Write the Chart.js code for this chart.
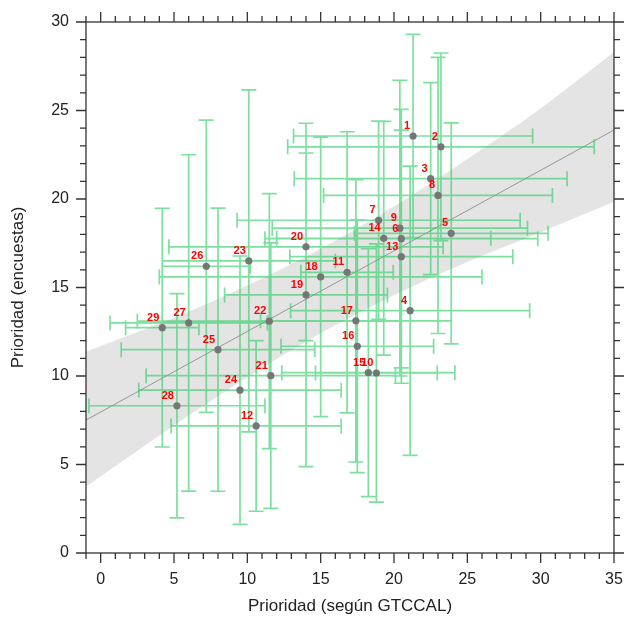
<!DOCTYPE html>
<html>
<head>
<meta charset="utf-8">
<script src="https://cdn.jsdelivr.net/npm/chart.js@4.4.1/dist/chart.umd.min.js"></script>
<style>
  html, body { margin: 0; padding: 0; background: #fff; }
</style>
</head>
<body>
<canvas id="chart" width="627" height="629"></canvas>
<script>
// Data
const pointIds = ['1','2','3','4','5','6','7','8','9','10','11','12','13','14','15',
                  '16','17','18','19','20','21','22','23','24','25','26','27','28','29'];
// Prioridad (según GTCCAL) - x
const prioGtccal = [21.3, 23.2, 22.5, 21.1, 23.9, 20.5, 18.95, 23.0, 20.4, 18.8,
                    16.8, 10.6, 20.5, 19.3, 18.25, 17.5, 17.4, 15.0, 14.0, 14.0,
                    11.6, 11.5, 10.1, 9.5, 8.0, 7.2, 6.0, 5.2, 4.2];
// Prioridad (encuestas) - y
const prioEncuestas = [23.56, 22.95, 21.15, 13.69, 18.06, 17.76, 18.8, 20.2, 18.35, 10.17,
                       15.86, 7.18, 16.74, 17.78, 10.19, 11.68, 13.12, 15.6, 14.58, 17.3,
                       10.02, 13.1, 16.5, 9.2, 11.49, 16.2, 13.0, 8.32, 12.73];
// half widths of the error bars
const errGtccal = [8.15, 10.45, 9.3, 8.15, 6.6, 9.3, 9.65, 7.8, 8.7, 4.15,
                   3.15, 5.8, 7.6, 7.3, 5.9, 5.2, 6.5, 11.0, 5.55, 9.35,
                   8.5, 9.0, 5.9, 6.9, 6.6, 3.0, 5.36, 6.0, 2.5];
const errEncuestas = [5.74, 5.3, 5.42, 8.17, 6.24, 7.3, 5.6, 7.8, 8.35, 7.3,
                      7.94, 4.82, 7.15, 6.6, 7.0, 7.14, 7.98, 7.9, 9.7, 5.3,
                      7.5, 7.2, 9.66, 7.58, 8.0, 8.26, 9.5, 6.33, 6.74];

// regression line and its confidence band
const fitX = [-1, 35];
const fitY = [7.51, 23.9];
const bandX = [-1, 5, 10, 15, 20, 25, 30, 35];
const bandUpper = [11.37, 13.29, 15.11, 17.19, 19.58, 22.26, 25.12, 28.3];
const bandLower = [3.75, 7.21, 9.93, 12.41, 14.56, 16.44, 18.12, 19.85];

const X_MIN = -1, X_MAX = 35, Y_MIN = 0, Y_MAX = 30;

const GREEN = 'rgba(45, 205, 100, 0.62)';
const AXIS_COLOR = '#333';
const FONT = '"Liberation Sans", Arial, sans-serif';

const toXY = (xs, ys) => xs.map((v, i) => ({x: v, y: ys[i]}));

// green error bars, drawn just before the gray points
const errorBars = {
    id: 'errorBars',
    beforeDatasetDraw(chart, args) {
        if (args.index !== 0) return;
        const {ctx, scales: {x, y}} = chart;
        const cap = 7.5;
        ctx.save();
        ctx.strokeStyle = GREEN;
        ctx.lineWidth = 1.7;
        ctx.beginPath();
        prioGtccal.forEach((xv, i) => {
            const yv = prioEncuestas[i];
            const px = x.getPixelForValue(xv);
            const py = y.getPixelForValue(yv);
            const x0 = x.getPixelForValue(xv - errGtccal[i]);
            const x1 = x.getPixelForValue(xv + errGtccal[i]);
            const y0 = y.getPixelForValue(yv - errEncuestas[i]);
            const y1 = y.getPixelForValue(yv + errEncuestas[i]);
            // horizontal
            ctx.moveTo(x0, py); ctx.lineTo(x1, py);
            ctx.moveTo(x0, py - cap); ctx.lineTo(x0, py + cap);
            ctx.moveTo(x1, py - cap); ctx.lineTo(x1, py + cap);
            // vertical
            ctx.moveTo(px, y0); ctx.lineTo(px, y1);
            ctx.moveTo(px - cap, y0); ctx.lineTo(px + cap, y0);
            ctx.moveTo(px - cap, y1); ctx.lineTo(px + cap, y1);
        });
        ctx.stroke();
        ctx.restore();
    }
};

// red number next to each point
const pointLabels = {
    id: 'pointLabels',
    afterDatasetsDraw(chart) {
        const {ctx, scales: {x, y}} = chart;
        ctx.save();
        ctx.fillStyle = '#ff0000';
        ctx.font = 'bold 11px ' + FONT;
        ctx.textAlign = 'right';
        ctx.textBaseline = 'middle';
        pointIds.forEach((id, i) => {
            const px = x.getPixelForValue(prioGtccal[i]);
            const py = y.getPixelForValue(prioEncuestas[i]);
            ctx.fillText(id, px - 3, py - 10);
        });
        ctx.restore();
    }
};

// box round the plot with outward ticks on all four sides
const frameTicks = {
    id: 'frameTicks',
    afterDraw(chart) {
        const {ctx, chartArea: a, scales: {x, y}} = chart;
        const major = 10, minor = 6;
        ctx.save();
        ctx.strokeStyle = AXIS_COLOR;
        ctx.lineWidth = 1.3;
        ctx.strokeRect(a.left, a.top, a.right - a.left, a.bottom - a.top);
        ctx.beginPath();
        for (let v = X_MIN; v <= X_MAX; v++) {
            const px = x.getPixelForValue(v);
            const len = v % 5 === 0 ? major : minor;
            ctx.moveTo(px, a.bottom); ctx.lineTo(px, a.bottom + len);
            ctx.moveTo(px, a.top); ctx.lineTo(px, a.top - len);
        }
        for (let v = Y_MIN; v <= Y_MAX; v++) {
            const py = y.getPixelForValue(v);
            const len = v % 5 === 0 ? major : minor;
            ctx.moveTo(a.left, py); ctx.lineTo(a.left - len, py);
            ctx.moveTo(a.right, py); ctx.lineTo(a.right + len, py);
        }
        ctx.stroke();
        ctx.restore();
    }
};

new Chart(document.getElementById('chart'), {
    type: 'scatter',
    data: {
        datasets: [{
            label: 'Tópicos',
            data: toXY(prioGtccal, prioEncuestas),
            backgroundColor: '#767676',
            borderWidth: 0,
            pointRadius: 3.6,
            order: 0
        }, {
            label: 'Ajuste',
            data: toXY(fitX, fitY),
            showLine: true,
            borderColor: 'rgba(120, 120, 120, 0.9)',
            borderWidth: 0.8,
            pointRadius: 0,
            order: 1
        }, {
            label: 'Banda sup',
            data: toXY(bandX, bandUpper),
            showLine: true,
            borderWidth: 0,
            pointRadius: 0,
            cubicInterpolationMode: 'monotone',
            backgroundColor: '#e4e4e4',
            fill: '+1',
            order: 2
        }, {
            label: 'Banda inf',
            data: toXY(bandX, bandLower),
            showLine: true,
            borderWidth: 0,
            pointRadius: 0,
            cubicInterpolationMode: 'monotone',
            order: 2
        }]
    },
    options: {
        responsive: false,
        animation: false,
        events: [],
        layout: { padding: { top: 22, right: 13, left: 0, bottom: 0 } },
        plugins: {
            legend: { display: false },
            tooltip: { enabled: false }
        },
        scales: {
            x: {
                type: 'linear',
                min: X_MIN,
                max: X_MAX,
                grid: { display: false, drawTicks: true, tickLength: 15 },
                border: { display: false },
                ticks: {
                    stepSize: 5,
                    includeBounds: false,
                    padding: 2,
                    color: '#222',
                    font: { family: FONT, size: 16 }
                },
                title: {
                    display: true,
                    text: 'Prioridad (según GTCCAL)',
                    color: '#222',
                    font: { family: FONT, size: 17 },
                    padding: { top: 0, bottom: 12 }
                },
                afterFit: s => { s.height = 76; }
            },
            y: {
                type: 'linear',
                min: Y_MIN,
                max: Y_MAX,
                grid: { display: false, drawTicks: true, tickLength: 15 },
                border: { display: false },
                ticks: {
                    stepSize: 5,
                    padding: 2,
                    color: '#222',
                    font: { family: FONT, size: 16 }
                },
                title: {
                    display: true,
                    text: 'Prioridad (encuestas)',
                    color: '#222',
                    font: { family: FONT, size: 17 },
                    padding: { top: 8, bottom: 0 }
                },
                afterFit: s => { s.width = 86; }
            }
        }
    },
    plugins: [errorBars, pointLabels, frameTicks]
});
</script>
</body>
</html>
